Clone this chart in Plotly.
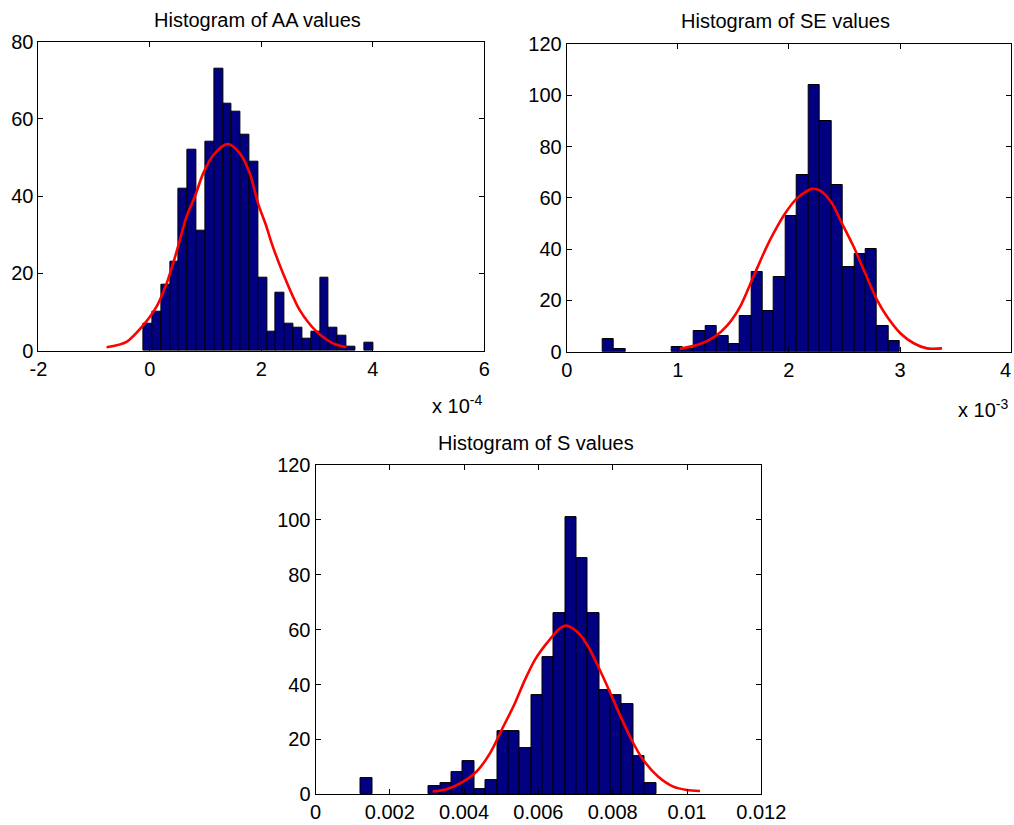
import plotly.graph_objects as go

# ---------------- data ----------------
# AA values (axis shown in units of 1e-4)
aa_bins = [-0.034, 0.124, 0.282, 0.441, 0.599, 0.757, 0.915, 1.073, 1.232, 1.390,
           1.548, 1.706, 1.864, 2.023, 2.181, 2.339, 2.497, 2.655, 2.813, 2.972,
           3.130, 3.288, 3.446, 3.604, 3.763, 3.921]
aa_counts = [7, 10, 17, 23, 42, 52, 31, 54, 73, 64, 62, 56, 49, 19, 5, 15, 7, 6, 3, 5,
             19, 6, 4, 1, 0, 2]
aa_fit_x = [-0.777, -0.418, -0.119, 0.119, 0.299, 0.478, 0.657, 0.806, 0.956, 1.135,
            1.392, 1.613, 1.792, 1.941, 2.091, 2.18, 2.389, 2.688, 2.987, 3.285, 3.525]
aa_fit_y = [0.9, 2.3, 6.6, 11.4, 17.4, 25.6, 34.7, 39.9, 45.9, 50.6,
            53.5, 51.1, 45.9, 38.1, 32.1, 28.0, 20.0, 10.5, 5.0, 1.9, 0.9]
aa_ticks = [-2, 0, 2, 4, 6]
aa_yticks = [0, 20, 40, 60, 80]

# SE values (axis shown in units of 1e-3)
se_bins = [0.3755, 0.4784, 0.5813, 0.6842, 0.7871, 0.8900, 0.9929, 1.0958, 1.1987, 1.3016,
           1.4045, 1.5074, 1.6103, 1.7132, 1.8161, 1.9190, 2.0219, 2.1248, 2.2277, 2.3306,
           2.4335, 2.5364, 2.6393, 2.7422, 2.8451, 2.9480]
se_counts = [5, 1, 0, 0, 0, 0, 2, 1, 8, 10, 6, 3, 14, 31, 16, 29, 53, 69, 104, 90,
             65, 33, 38, 40, 10, 4]
se_fit_x = [1.02, 1.20, 1.33, 1.45, 1.56, 1.681, 1.787, 1.862, 1.967, 2.072, 2.207,
            2.282, 2.387, 2.477, 2.582, 2.687, 2.793, 2.883, 3.003, 3.123, 3.243, 3.378]
se_fit_y = [1.1, 3.0, 5.8, 10.5, 17.5, 29.3, 39.7, 46.2, 54.0, 59.8, 63.5,
            62.8, 57.9, 50.1, 41.0, 30.6, 20.2, 13.7, 7.2, 3.3, 1.3, 1.3]
se_ticks = [0, 1, 2, 3, 4]
se_yticks = [0, 20, 40, 60, 80, 100, 120]

# S values
s_bins = [0.001369, 0.001675, 0.001981, 0.002286, 0.002592, 0.002898, 0.003204, 0.003510,
          0.003815, 0.004121, 0.004427, 0.004733, 0.005039, 0.005344, 0.005650, 0.005956,
          0.006262, 0.006568, 0.006873, 0.007179, 0.007485, 0.007791, 0.008097, 0.008402,
          0.008708, 0.009014]
s_counts = [6, 0, 0, 0, 0, 0, 3, 4, 8, 12, 2, 5, 23, 23, 17, 36, 50, 66, 101, 86,
            66, 38, 36, 33, 14, 4]
s_fit_x = [0.003152, 0.003529, 0.003976, 0.004337, 0.004695, 0.005056, 0.005368, 0.005637,
           0.005906, 0.006221, 0.006579, 0.00676, 0.007074, 0.007343, 0.007612, 0.007882,
           0.008195, 0.008509, 0.008824, 0.009228, 0.009632, 0.00999, 0.01035]
s_fit_y = [1.0, 1.8, 4.6, 8.3, 14.9, 24.7, 33.2, 41.7, 49.0, 55.0, 60.5, 61.5, 58.9, 53.8,
           46.5, 38.6, 28.9, 19.8, 12.5, 6.4, 2.8, 1.6, 1.2]
s_ticks = [0, 0.002, 0.004, 0.006, 0.008, 0.01, 0.012]
s_ticktext = ["0", "0.002", "0.004", "0.006", "0.008", "0.01", "0.012"]
s_yticks = [0, 20, 40, 60, 80, 100, 120]

titles = ["Histogram of AA values", "Histogram of SE values", "Histogram of S values"]

# ---------------- styling ----------------
BAR_COLOR = "#000080"
FIT_COLOR = "#ff0000"
FONT = "Arial, Liberation Sans, sans-serif"
W, H = 1014, 825

fig = go.Figure()

def add_panel(bins, counts, width, fx, fy, xa, ya):
    shown = [c if c > 0 else None for c in counts]
    fig.add_trace(go.Bar(x=bins, y=shown, width=width, xaxis=xa, yaxis=ya,
                         marker=dict(color=BAR_COLOR, line=dict(color="black", width=1)),
                         hoverinfo="x+y"))
    fig.add_trace(go.Scatter(x=fx, y=fy, mode="lines", xaxis=xa, yaxis=ya,
                             line=dict(color=FIT_COLOR, width=2.6, shape="spline", smoothing=0.8)))

add_panel(aa_bins, aa_counts, 0.1582, aa_fit_x, aa_fit_y, "x", "y")
add_panel(se_bins, se_counts, 0.1029, se_fit_x, se_fit_y, "x2", "y2")
add_panel(s_bins, s_counts, 0.0003058, s_fit_x, s_fit_y, "x3", "y3")

def ax(**kw):
    d = dict(showline=True, linecolor="black", linewidth=1, mirror="ticks",
             ticks="inside", ticklen=5, tickcolor="black", tickwidth=1,
             showgrid=False, zeroline=False, automargin=False,
             ticklabeloverflow="allow",
             tickfont=dict(family=FONT, size=20, color="black"))
    d.update(kw)
    return d

def px_dom(a, b, total):
    return [a / total, b / total]

def py_dom(top, bottom):
    return [1 - bottom / H, 1 - top / H]

# last SE tick label sits at the very page edge: it is drawn as a note nudged inward
se_ticktext = [str(v) for v in se_ticks[:-1]] + [""]

fig.update_layout(
    width=W, height=H,
    margin=dict(l=0, r=0, t=0, b=0, pad=0, autoexpand=False),
    paper_bgcolor="white", plot_bgcolor="white",
    showlegend=False, bargap=0,
    xaxis=ax(domain=px_dom(38.4, 484.4, W), range=[-2, 6], tickvals=aa_ticks,
             ticktext=[str(v) for v in aa_ticks], anchor="y"),
    yaxis=ax(domain=py_dom(41.7, 350.7), range=[0, 80], tickvals=aa_yticks, anchor="x"),
    xaxis2=ax(domain=px_dom(566.7, 1011.1, W), range=[0, 4], tickvals=se_ticks,
              ticktext=se_ticktext, anchor="y2"),
    yaxis2=ax(domain=py_dom(44, 351.7), range=[0, 120], tickvals=se_yticks, anchor="x2"),
    xaxis3=ax(domain=px_dom(315.5, 761.3, W), range=[0, 0.012], tickvals=s_ticks,
              ticktext=s_ticktext, anchor="y3"),
    yaxis3=ax(domain=py_dom(465.1, 794.3), range=[0, 120], tickvals=s_yticks, anchor="x3"),
)

def note(text, x, y, xanchor="center", size=20):
    fig.add_annotation(text=text, x=x / W, y=1 - y / H, xref="paper", yref="paper",
                       xanchor=xanchor, yanchor="middle", showarrow=False,
                       font=dict(family=FONT, size=size, color="black"))

note(titles[0], 257, 19.5)
note(titles[1], 785, 21)
note(titles[2], 536, 443)
note("x 10<sup>-4</sup>", 430, 404, xanchor="left")
note("x 10<sup>-3</sup>", 956, 408, xanchor="left")
note(str(se_ticks[-1]), 1013, 370, xanchor="right")

fig.write_html("out.html", config={"displayModeBar": False},
               post_script="document.body.style.margin='0';document.body.style.overflow='hidden';")
